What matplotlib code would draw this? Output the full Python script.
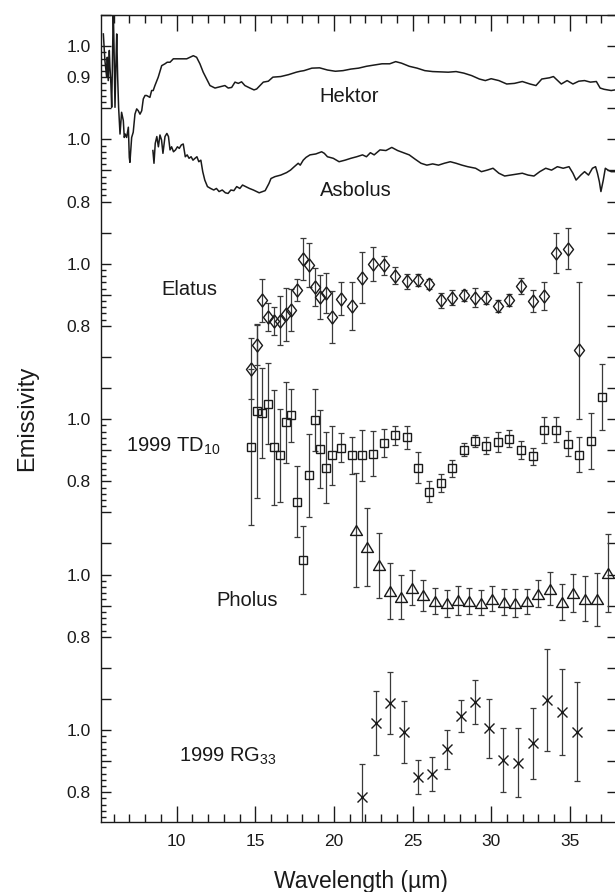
import numpy as np
import matplotlib
matplotlib.use("Agg")
import matplotlib.pyplot as plt
from matplotlib.ticker import FixedLocator, MultipleLocator

plt.rcParams["font.family"] = ["Liberation Sans", "DejaVu Sans"]
plt.rcParams["mathtext.fontset"] = "custom"
plt.rcParams["mathtext.rm"] = "Liberation Sans"
plt.rcParams["mathtext.it"] = "Liberation Sans"

# ----------------------------------------------------------------------
# Spectra (emissivity, each object shifted by its own offset)
hektor_wl = [5.34, 5.44, 5.55, 5.59, 5.65, 5.72, 5.76, 5.82, 5.87, 5.91, 5.97,
             6.02, 6.08, 6.14, 6.19, 6.25, 6.31, 6.40, 6.50, 6.61, 6.67, 6.73,
             6.82, 6.93, 6.99, 7.03, 7.14, 7.24, 7.35, 7.46, 7.56, 7.67, 7.78,
             7.88, 7.99, 8.09, 8.30, 8.41, 8.51, 8.62, 8.83, 9.05, 9.26, 9.40,
             9.58, 9.79, 10.00, 10.32, 10.64, 10.85, 11.06, 11.27, 11.48, 11.69,
             11.91, 12.12, 12.44, 12.75, 13.07, 13.28, 13.50, 13.71, 13.92,
             14.13, 14.34, 14.66, 14.92, 15.09, 15.30, 15.51, 15.83, 16.12,
             16.62, 17.11, 17.61, 17.86, 18.10, 18.60, 19.09, 19.59, 20.09,
             20.58, 21.08, 21.57, 22.07, 22.56, 23.06, 23.55, 23.93, 24.30,
             24.79, 25.29, 25.78, 26.28, 26.78, 27.27, 27.77, 28.26, 28.76,
             29.25, 29.63, 30.00, 30.49, 30.99, 31.48, 31.98, 32.47, 32.85,
             33.22, 33.71, 33.96, 34.46, 34.83, 35.20, 35.57, 35.94, 36.31,
             36.69, 36.93, 37.18, 37.63, 38.00]
hektor_em = [1.039, 0.953, 0.900, 0.964, 0.889, 0.986, 0.932, 0.878, 0.803,
             0.921, 1.120, 0.996, 0.803, 0.943, 1.039, 0.900, 0.803, 0.717,
             0.787, 0.760, 0.706, 0.717, 0.706, 0.739, 0.642, 0.626, 0.706,
             0.723, 0.781, 0.798, 0.792, 0.781, 0.792, 0.830, 0.841, 0.841,
             0.835, 0.857, 0.857, 0.873, 0.900, 0.937, 0.943, 0.948, 0.948,
             0.959, 0.959, 0.959, 0.959, 0.964, 0.969, 0.964, 0.943, 0.916,
             0.894, 0.873, 0.865, 0.869, 0.873, 0.865, 0.867, 0.884, 0.880,
             0.885, 0.873, 0.865, 0.859, 0.862, 0.873, 0.884, 0.887, 0.900,
             0.902, 0.908, 0.916, 0.919, 0.921, 0.929, 0.930, 0.923, 0.919,
             0.921, 0.926, 0.929, 0.935, 0.939, 0.943, 0.943, 0.950, 0.945,
             0.935, 0.929, 0.921, 0.918, 0.917, 0.916, 0.918, 0.913, 0.905,
             0.894, 0.889, 0.895, 0.889, 0.878, 0.880, 0.886, 0.878, 0.873,
             0.894, 0.898, 0.902, 0.878, 0.889, 0.878, 0.887, 0.889, 0.884,
             0.886, 0.865, 0.861, 0.857, 0.860]

asbolus_wl = [8.49, 8.56, 8.64, 8.74, 8.84, 8.94, 9.04, 9.13, 9.26, 9.38, 9.48,
              9.58, 9.68, 9.80, 9.93, 10.05, 10.17, 10.30, 10.42, 10.55, 10.67,
              10.79, 10.92, 11.04, 11.17, 11.29, 11.41, 11.54, 11.66, 11.79,
              11.96, 12.16, 12.36, 12.53, 12.70, 12.90, 13.10, 13.27, 13.45,
              13.64, 13.82, 14.02, 14.19, 14.39, 14.63, 14.88, 15.25, 15.63,
              15.87, 16.00, 16.25, 16.62, 16.99, 17.24, 17.48, 17.73, 17.86,
              18.05, 18.23, 18.48, 18.85, 19.22, 19.39, 19.59, 19.96, 20.33,
              20.71, 21.08, 21.45, 21.82, 22.07, 22.32, 22.56, 22.93, 23.31,
              23.68, 24.05, 24.42, 24.79, 25.17, 25.54, 25.91, 26.28, 26.65,
              27.02, 27.40, 27.77, 28.14, 28.51, 29.01, 29.38, 29.75, 30.12,
              30.49, 30.86, 31.23, 31.61, 31.98, 32.35, 32.72, 33.09, 33.47,
              33.84, 34.21, 34.58, 34.95, 35.20, 35.40, 35.70, 35.94, 36.19,
              36.44, 36.64, 36.76, 36.88, 36.98, 37.13, 37.26, 37.43, 37.63,
              38.00]
asbolus_em = [0.964, 0.923, 0.987, 1.009, 0.976, 1.014, 0.998, 0.955, 1.009,
              1.019, 1.009, 0.966, 0.976, 0.960, 0.966, 0.976, 0.971, 0.982,
              0.985, 0.944, 0.950, 0.939, 0.944, 0.933, 0.939, 0.944, 0.928,
              0.933, 0.896, 0.869, 0.848, 0.842, 0.837, 0.842, 0.832, 0.837,
              0.828, 0.826, 0.837, 0.835, 0.848, 0.842, 0.853, 0.848, 0.842,
              0.837, 0.828, 0.835, 0.858, 0.874, 0.880, 0.885, 0.893, 0.901,
              0.912, 0.923, 0.917, 0.933, 0.942, 0.950, 0.953, 0.960, 0.955,
              0.944, 0.939, 0.928, 0.933, 0.939, 0.944, 0.950, 0.944, 0.957,
              0.950, 0.966, 0.964, 0.974, 0.964, 0.957, 0.950, 0.936, 0.923,
              0.917, 0.921, 0.917, 0.923, 0.928, 0.923, 0.917, 0.912, 0.907,
              0.896, 0.901, 0.907, 0.891, 0.882, 0.885, 0.888, 0.891, 0.885,
              0.882, 0.896, 0.907, 0.901, 0.912, 0.907, 0.912, 0.891, 0.869,
              0.885, 0.896, 0.885, 0.907, 0.912, 0.891, 0.864, 0.832, 0.869,
              0.907, 0.901, 0.896, 0.896]

# ----------------------------------------------------------------------
# Photometry points with 1-sigma errors
elatus_wl = [14.71, 15.09, 15.44, 15.82, 16.19, 16.57, 16.93, 17.29, 17.67,
             18.03, 18.39, 18.77, 19.11, 19.49, 19.87, 20.43, 21.17, 21.76,
             22.48, 23.18, 23.90, 24.62, 25.36, 26.06, 26.78, 27.52, 28.25,
             28.97, 29.68, 30.43, 31.15, 31.89, 32.63, 33.37, 34.11, 34.86,
             35.60]
elatus_em = [0.662, 0.739, 0.882, 0.830, 0.817, 0.817, 0.837, 0.852, 0.916,
             1.016, 0.995, 0.925, 0.893, 0.905, 0.828, 0.887, 0.863, 0.955,
             1.000, 0.995, 0.962, 0.943, 0.948, 0.936, 0.882, 0.891, 0.898,
             0.891, 0.891, 0.863, 0.884, 0.927, 0.880, 0.895, 1.034, 1.048,
             0.721]
elatus_err = [0.098, 0.065, 0.070, 0.045, 0.045, 0.080, 0.085, 0.067, 0.035,
              0.067, 0.070, 0.060, 0.070, 0.065, 0.083, 0.053, 0.077, 0.082,
              0.055, 0.030, 0.027, 0.023, 0.020, 0.016, 0.024, 0.023, 0.018,
              0.030, 0.020, 0.019, 0.020, 0.026, 0.034, 0.045, 0.064, 0.066,
              0.220]

td10_wl = [14.73, 15.09, 15.44, 15.82, 16.19, 16.57, 16.93, 17.29, 17.67,
           18.03, 18.39, 18.77, 19.11, 19.49, 19.87, 20.43, 21.17, 21.76,
           22.48, 23.18, 23.90, 24.62, 25.36, 26.06, 26.78, 27.52, 28.25,
           28.97, 29.68, 30.43, 31.15, 31.89, 32.63, 33.37, 34.11, 34.86,
           35.60, 36.33, 37.06]
td10_em = [0.910, 1.025, 1.019, 1.050, 0.910, 0.883, 0.990, 1.012, 0.735,
           0.547, 0.819, 0.998, 0.905, 0.844, 0.883, 0.908, 0.883, 0.883,
           0.889, 0.923, 0.948, 0.942, 0.844, 0.767, 0.794, 0.842, 0.901,
           0.929, 0.915, 0.926, 0.937, 0.901, 0.880, 0.966, 0.966, 0.921,
           0.886, 0.929, 1.071]
td10_err = [0.250, 0.280, 0.145, 0.130, 0.185, 0.150, 0.130, 0.086, 0.113,
            0.110, 0.133, 0.100, 0.125, 0.115, 0.095, 0.047, 0.060, 0.083,
            0.072, 0.045, 0.030, 0.037, 0.050, 0.035, 0.030, 0.027, 0.021,
            0.019, 0.027, 0.032, 0.028, 0.030, 0.027, 0.042, 0.040, 0.040,
            0.057, 0.090, 0.105]

pholus_wl = [21.38, 22.12, 22.84, 23.58, 24.28, 24.98, 25.68, 26.42, 27.17,
             27.89, 28.61, 29.33, 30.07, 30.79, 31.51, 32.25, 32.99, 33.73,
             34.48, 35.21, 35.96, 36.70, 37.40]
pholus_em = [1.143, 1.089, 1.030, 0.947, 0.928, 0.958, 0.933, 0.914, 0.907,
             0.917, 0.915, 0.909, 0.923, 0.912, 0.907, 0.914, 0.939, 0.955,
             0.912, 0.941, 0.923, 0.920, 1.005]
pholus_err = [0.183, 0.126, 0.105, 0.090, 0.070, 0.057, 0.050, 0.042, 0.042,
              0.046, 0.043, 0.040, 0.040, 0.043, 0.045, 0.040, 0.042, 0.052,
              0.058, 0.060, 0.071, 0.085, 0.125]

rg33_wl = [21.76, 22.65, 23.56, 24.43, 25.36, 26.21, 27.17, 28.06, 28.97,
           29.88, 30.77, 31.72, 32.63, 33.56, 34.48, 35.43]
rg33_em = [0.785, 1.024, 1.088, 0.993, 0.850, 0.858, 0.938, 1.046, 1.091,
           1.005, 0.903, 0.895, 0.957, 1.097, 1.057, 0.995]
rg33_err = [0.105, 0.103, 0.100, 0.100, 0.055, 0.055, 0.063, 0.052, 0.071,
            0.094, 0.103, 0.112, 0.115, 0.163, 0.139, 0.159]

# vertical offsets of each spectrum, lower labelled tick, lower end of minor ticks
names = ["Hektor", "Asbolus", "Elatus", "1999 TD$_{10}$", "Pholus", "1999 RG$_{33}$"]
offsets = [2.2, 1.9, 1.5, 1.0, 0.5, 0.0]
low_labels = [0.9, 0.8, 0.8, 0.8, 0.8, 0.8]
minor_from = [0.8, 0.8, 0.8, 0.7, 0.8, 0.7]
label_pos = [(19.1, 3.020), (19.1, 2.717), (9.05, 2.399),
             (6.78, 1.895), (12.54, 1.400), (10.17, 0.898)]

ink = "#1a1a1a"
bar_col = "#3a3a3a"

fig = plt.figure(figsize=(6.15, 8.92), dpi=100)
ax = fig.add_axes([0.1637, 0.0788, 0.8395, 0.9044])

# ----------------------------------------------------------------------
# 1.  Continuous spectra -------------------------------------------------
ax.plot(hektor_wl, np.array(hektor_em) + offsets[0], color=ink, lw=1.1)
ax.plot(asbolus_wl, np.array(asbolus_em) + offsets[1], color=ink, lw=1.1)

# ----------------------------------------------------------------------
# 2.  Photometry with error bars ----------------------------------------
diamond = [(0, 1.3), (1, 0), (0, -1.3), (-1, 0), (0, 1.3)]
triangle = [(0, 0.83), (-1, -0.83), (1, -0.83), (0, 0.83)]
series = [
    (elatus_wl, elatus_em, elatus_err, offsets[2], diamond, 9.4),
    (td10_wl, td10_em, td10_err, offsets[3], "s", 5.8),
    (pholus_wl, pholus_em, pholus_err, offsets[4], triangle, 8.6),
    (rg33_wl, rg33_em, rg33_err, offsets[5], "x", 7.2),
]
for wl, em, err, off, mk, ms in series:
    y = np.array(em) + off
    ax.errorbar(wl, y, yerr=err, fmt="none", ecolor=bar_col, elinewidth=0.9,
                capsize=2.4, capthick=0.9, zorder=2)
    ax.plot(wl, y, linestyle="none", marker=mk, ms=ms, mfc="none",
            mec=ink, mew=1.0, zorder=3)

# ----------------------------------------------------------------------
# 3.  Object names ------------------------------------------------------
for name, (lx, ly) in zip(names, label_pos):
    ax.text(lx, ly, name, fontsize=14.5, color=ink, ha="left", va="baseline")

# ----------------------------------------------------------------------
# 4.  Axes, ticks -------------------------------------------------------
ax.set_xlim(5.17, 38.0)
ax.set_ylim(0.705, 3.30)

ax.xaxis.set_major_locator(MultipleLocator(5))
ax.xaxis.set_minor_locator(MultipleLocator(1))

major_y = list(np.round(np.arange(0.8, 3.31, 0.1), 2))
tick_text = {}
for off, lo in zip(offsets, low_labels):
    tick_text[round(off + 1.0, 2)] = "1.0"
    tick_text[round(off + lo, 2)] = f"{lo:.1f}"
minor_y = []
for off, lo in zip(offsets, minor_from):
    minor_y += list(np.round(np.arange(lo, 1.001, 0.02) + off, 3))
ax.yaxis.set_major_locator(FixedLocator(major_y))
ax.set_yticklabels([tick_text.get(v, "") for v in major_y])
ax.yaxis.set_minor_locator(FixedLocator(minor_y))

ax.tick_params(axis="both", which="both", direction="in", colors=ink,
               top=True, right=True, labelsize=12.5)
ax.tick_params(axis="x", which="major", length=11.5, width=1.0, pad=9)
ax.tick_params(axis="x", which="minor", length=5.8, width=1.0)
ax.tick_params(axis="y", which="major", length=7.2, width=1.0, pad=7)
ax.tick_params(axis="y", which="minor", length=3.6, width=1.0, right=False)
for sp in ax.spines.values():
    sp.set_linewidth(1.0)
    sp.set_color(ink)

fig.text(361 / 615, 0.004, "Wavelength (µm)", fontsize=16.5, color=ink,
         ha="center", va="baseline")
fig.text(27 / 615, 1 - 418 / 892, "Emissivity", fontsize=17, color=ink,
         rotation=90, ha="center", va="center")

fig.savefig("out.png", dpi=100)
